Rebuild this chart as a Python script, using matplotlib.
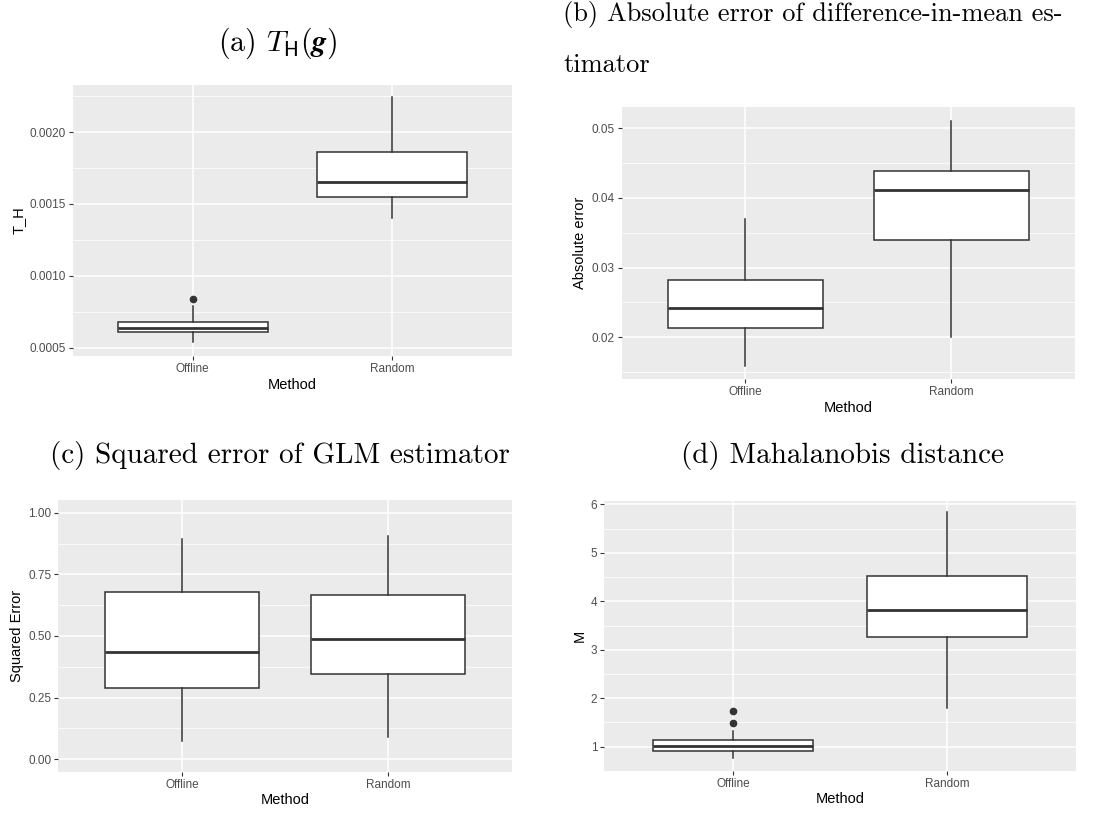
import matplotlib
matplotlib.use("Agg")
import matplotlib.pyplot as plt
from matplotlib.ticker import FixedLocator

plt.rcParams['mathtext.fontset'] = 'cm'
plt.rcParams['font.family'] = ['Liberation Sans', 'DejaVu Sans']

methods = ["Offline", "Random"]

# (a) T_H
a_whislo = [0.000537, 0.001405]
a_q1 = [0.000607, 0.00155]
a_med = [0.000635, 0.00165]
a_q3 = [0.000681, 0.00186]
a_whishi = [0.000793, 0.002246]
a_fliers = [[0.000837], []]
a_ticks = [0.0005, 0.0010, 0.0015, 0.0020]
a_ticklabels = ["0.0005", "0.0010", "0.0015", "0.0020"]

# (b) Absolute error
b_whislo = [0.0159, 0.0200]
b_q1 = [0.0214, 0.0339]
b_med = [0.0242, 0.0411]
b_q3 = [0.0283, 0.0439]
b_whishi = [0.0370, 0.0511]
b_fliers = [[], []]
b_ticks = [0.02, 0.03, 0.04, 0.05]
b_ticklabels = ["0.02", "0.03", "0.04", "0.05"]

# (c) Squared error
c_whislo = [0.074, 0.090]
c_q1 = [0.288, 0.345]
c_med = [0.436, 0.489]
c_q3 = [0.678, 0.665]
c_whishi = [0.892, 0.905]
c_fliers = [[], []]
c_ticks = [0.0, 0.25, 0.5, 0.75, 1.0]
c_ticklabels = ["0.00", "0.25", "0.50", "0.75", "1.00"]

# (d) Mahalanobis distance
d_whislo = [0.76, 1.79]
d_q1 = [0.918, 3.27]
d_med = [1.02, 3.82]
d_q3 = [1.145, 4.52]
d_whishi = [1.32, 5.835]
d_fliers = [[1.495, 1.736], []]
d_ticks = [1, 2, 3, 4, 5, 6]
d_ticklabels = ["1", "2", "3", "4", "5", "6"]

W, H = 1119, 813
fig = plt.figure(figsize=(W / 100, H / 100), dpi=100)

def rect(x0, y0, x1, y1):
    return [x0 / W, 1 - y1 / H, (x1 - x0) / W, (y1 - y0) / H]

panels = [
    (rect(73, 85, 512, 356), (0.000442, 0.002328), a_whislo, a_q1, a_med, a_q3, a_whishi, a_fliers, a_ticks, a_ticklabels, "T_H"),
    (rect(621.7, 107, 1075, 379), (0.01402, 0.05306), b_whislo, b_q1, b_med, b_q3, b_whishi, b_fliers, b_ticks, b_ticklabels, "Absolute error"),
    (rect(58.3, 500, 511.7, 771.7), (-0.0503, 1.0515), c_whislo, c_q1, c_med, c_q3, c_whishi, c_fliers, c_ticks, c_ticklabels, "Squared Error"),
    (rect(604.3, 501, 1075.7, 770.7), (0.505, 6.07), d_whislo, d_q1, d_med, d_q3, d_whishi, d_fliers, d_ticks, d_ticklabels, "M"),
]

for pos, ylim, wlo, q1, med, q3, whi, fl, ticks, tlabels, ylabel in panels:
    ax = fig.add_axes(pos)
    ax.set_facecolor("#EBEBEB")
    for s in ax.spines.values():
        s.set_visible(False)
    stats = []
    for i, m in enumerate(methods):
        stats.append(dict(label=m, whislo=wlo[i], q1=q1[i], med=med[i], q3=q3[i], whishi=whi[i], fliers=fl[i]))
    ax.bxp(stats, positions=[1, 2], widths=0.75, showcaps=False, patch_artist=True,
           boxprops=dict(facecolor="white", edgecolor="#333333", linewidth=1.1),
           medianprops=dict(color="#333333", linewidth=2.0),
           whiskerprops=dict(color="#333333", linewidth=1.1),
           flierprops=dict(marker="o", markerfacecolor="#333333", markeredgecolor="#333333", markersize=4.5),
           zorder=3)
    ax.set_xlim(0.4, 2.6)
    ax.set_ylim(*ylim)
    ax.set_xticks([1, 2])
    ax.set_xticklabels(methods)
    ax.yaxis.set_major_locator(FixedLocator(ticks))
    ax.set_yticklabels(tlabels)
    minors = [(ticks[i] + ticks[i + 1]) / 2 for i in range(len(ticks) - 1)]
    step = ticks[1] - ticks[0]
    if ticks[0] - step / 2 > ylim[0]:
        minors.insert(0, ticks[0] - step / 2)
    if ticks[-1] + step / 2 < ylim[1]:
        minors.append(ticks[-1] + step / 2)
    ax.yaxis.set_minor_locator(FixedLocator(minors))
    ax.grid(which="major", color="white", linewidth=1.1, zorder=0)
    ax.grid(which="minor", axis="y", color="white", linewidth=0.55, zorder=0)
    ax.set_axisbelow(True)
    ax.tick_params(which="major", length=3, width=0.8, color="#333333", labelcolor="#4D4D4D", labelsize=8.5, pad=2)
    ax.tick_params(which="minor", length=0)
    ax.set_xlabel("Method", fontsize=10.5, color="black", labelpad=2)
    ax.set_ylabel(ylabel, fontsize=10.5, color="black", labelpad=3)

tcommon = dict(family="cmr10", color="black")
fig.text(278 / W, 1 - 43 / H, r"(a) $T_{\mathsf{H}}(\boldsymbol{g})$", ha="center", va="center", fontsize=21.5, **tcommon)
fig.text(563 / W, 1 - 15 / H, "(b) Absolute error of difference-in-mean es-", ha="left", va="center", fontsize=19, **tcommon)
fig.text(563 / W, 1 - 65 / H, "timator", ha="left", va="center", fontsize=19, **tcommon)
fig.text(280 / W, 1 - 455 / H, "(c) Squared error of GLM estimator", ha="center", va="center", fontsize=21, **tcommon)
fig.text(843 / W, 1 - 455 / H, "(d) Mahalanobis distance", ha="center", va="center", fontsize=21, **tcommon)

fig.savefig("out.png", dpi=100)
